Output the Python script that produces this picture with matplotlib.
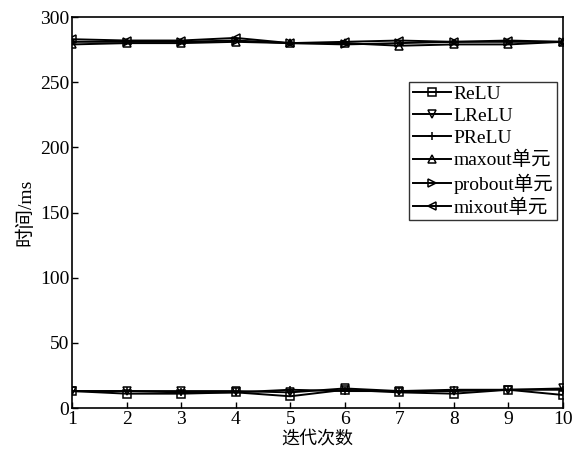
import matplotlib
matplotlib.use("Agg")
import matplotlib.pyplot as plt

plt.rcParams['font.family'] = ['Liberation Serif', 'Noto Sans CJK SC']
plt.rcParams['mathtext.fontset'] = 'stix'

iters = [1, 2, 3, 4, 5, 6, 7, 8, 9, 10]
relu = [13, 11, 11, 12, 9, 14, 12, 11, 14, 10]
lrelu = [13, 13, 13, 13, 12, 15, 13, 13, 14, 15]
prelu = [13, 13, 12, 12, 14, 13, 13, 14, 14, 14]
maxout = [279, 280, 280, 281, 280, 280, 278, 279, 279, 281]
probout = [281, 281, 281, 282, 280, 279, 280, 281, 281, 281]
mixout = [283, 282, 282, 284, 280, 281, 282, 281, 282, 281]

series = [
    ("ReLU", relu, "s"),
    ("LReLU", lrelu, "v"),
    ("PReLU", prelu, "+"),
    ("maxout单元", maxout, "^"),
    ("probout单元", probout, ">"),
    ("mixout单元", mixout, "<"),
]

fig = plt.figure(figsize=(5.78, 4.49), dpi=100)
ax = fig.add_axes([0.1246, 0.0913, 0.8494, 0.8707])

for label, vals, m in series:
    ax.plot(iters, vals, color="black", linewidth=1.4, marker=m,
            markersize=6, markerfacecolor="none", markeredgecolor="black",
            markeredgewidth=1.1, label=label)

ax.set_xlim(1, 10)
ax.set_ylim(0, 300)
ax.set_xticks(iters)
ax.set_yticks([0, 50, 100, 150, 200, 250, 300])
ax.tick_params(direction="in", labelsize=14, length=4, width=1, pad=2)
for s in ax.spines.values():
    s.set_linewidth(1.2)

ax.set_xlabel("迭代次数", fontsize=13, family=['Noto Sans CJK SC'], labelpad=1)
ax.set_ylabel("时间/ms", fontsize=14, family=['Liberation Serif', 'Noto Sans CJK SC'], labelpad=4)

leg = ax.legend(loc="upper right", bbox_to_anchor=(0.988, 0.835), fontsize=14,
                frameon=True, fancybox=False, edgecolor="black",
                handlelength=2.0, handletextpad=0.1, borderpad=0.2,
                labelspacing=0.22, borderaxespad=0)
leg.get_frame().set_linewidth(1.0)

fig.savefig("out.png", dpi=100)
